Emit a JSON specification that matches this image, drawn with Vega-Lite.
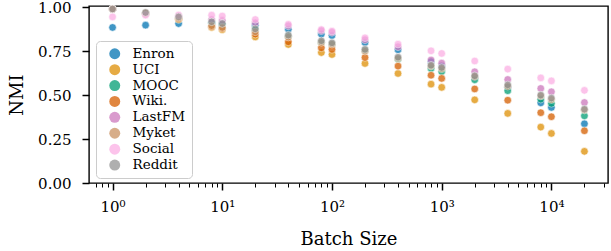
{
  "$schema": "https://vega.github.io/schema/vega-lite/v6.json",
  "width": 519,
  "height": 177,
  "autosize": "none",
  "padding": {"left": 89, "top": 6, "right": 3, "bottom": 68},
  "background": "white",
  "config": {
    "view": {"stroke": "black", "strokeWidth": 1.4},
    "font": "DejaVu Serif"
  },
  "data": {
    "values": [
      {"b":1,"d":"Enron","v":0.885},{"b":2,"d":"Enron","v":0.898},{"b":4,"d":"Enron","v":0.907},{"b":8,"d":"Enron","v":0.912},{"b":10,"d":"Enron","v":0.905},{"b":20,"d":"Enron","v":0.898},{"b":40,"d":"Enron","v":0.875},{"b":80,"d":"Enron","v":0.847},{"b":100,"d":"Enron","v":0.839},{"b":200,"d":"Enron","v":0.799},{"b":400,"d":"Enron","v":0.758},{"b":800,"d":"Enron","v":0.690},{"b":1000,"d":"Enron","v":0.665},{"b":2000,"d":"Enron","v":0.600},{"b":4000,"d":"Enron","v":0.545},{"b":8000,"d":"Enron","v":0.456},{"b":10000,"d":"Enron","v":0.430},{"b":20000,"d":"Enron","v":0.337},
      {"b":1,"d":"UCI","v":0.99},{"b":2,"d":"UCI","v":0.965},{"b":4,"d":"UCI","v":0.93},{"b":8,"d":"UCI","v":0.885},{"b":10,"d":"UCI","v":0.872},{"b":20,"d":"UCI","v":0.831},{"b":40,"d":"UCI","v":0.788},{"b":80,"d":"UCI","v":0.742},{"b":100,"d":"UCI","v":0.731},{"b":200,"d":"UCI","v":0.680},{"b":400,"d":"UCI","v":0.623},{"b":800,"d":"UCI","v":0.5625},{"b":1000,"d":"UCI","v":0.544},{"b":2000,"d":"UCI","v":0.473},{"b":4000,"d":"UCI","v":0.396},{"b":8000,"d":"UCI","v":0.318},{"b":10000,"d":"UCI","v":0.282},{"b":20000,"d":"UCI","v":0.180},
      {"b":1,"d":"MOOC","v":0.99},{"b":2,"d":"MOOC","v":0.965},{"b":4,"d":"MOOC","v":0.94},{"b":8,"d":"MOOC","v":0.91},{"b":10,"d":"MOOC","v":0.90},{"b":20,"d":"MOOC","v":0.87},{"b":40,"d":"MOOC","v":0.835},{"b":80,"d":"MOOC","v":0.80},{"b":100,"d":"MOOC","v":0.79},{"b":200,"d":"MOOC","v":0.755},{"b":400,"d":"MOOC","v":0.705},{"b":800,"d":"MOOC","v":0.652},{"b":1000,"d":"MOOC","v":0.634},{"b":2000,"d":"MOOC","v":0.587},{"b":4000,"d":"MOOC","v":0.525},{"b":8000,"d":"MOOC","v":0.477},{"b":10000,"d":"MOOC","v":0.453},{"b":20000,"d":"MOOC","v":0.382},
      {"b":1,"d":"Wiki.","v":0.99},{"b":2,"d":"Wiki.","v":0.965},{"b":4,"d":"Wiki.","v":0.935},{"b":8,"d":"Wiki.","v":0.89},{"b":10,"d":"Wiki.","v":0.88},{"b":20,"d":"Wiki.","v":0.847},{"b":40,"d":"Wiki.","v":0.803},{"b":80,"d":"Wiki.","v":0.769},{"b":100,"d":"Wiki.","v":0.760},{"b":200,"d":"Wiki.","v":0.714},{"b":400,"d":"Wiki.","v":0.665},{"b":800,"d":"Wiki.","v":0.613},{"b":1000,"d":"Wiki.","v":0.595},{"b":2000,"d":"Wiki.","v":0.535},{"b":4000,"d":"Wiki.","v":0.471},{"b":8000,"d":"Wiki.","v":0.400},{"b":10000,"d":"Wiki.","v":0.377},{"b":20000,"d":"Wiki.","v":0.297},
      {"b":1,"d":"LastFM","v":0.99},{"b":2,"d":"LastFM","v":0.965},{"b":4,"d":"LastFM","v":0.95},{"b":8,"d":"LastFM","v":0.93},{"b":10,"d":"LastFM","v":0.925},{"b":20,"d":"LastFM","v":0.911},{"b":40,"d":"LastFM","v":0.894},{"b":80,"d":"LastFM","v":0.866},{"b":100,"d":"LastFM","v":0.857},{"b":200,"d":"LastFM","v":0.815},{"b":400,"d":"LastFM","v":0.775},{"b":800,"d":"LastFM","v":0.700},{"b":1000,"d":"LastFM","v":0.682},{"b":2000,"d":"LastFM","v":0.633},{"b":4000,"d":"LastFM","v":0.589},{"b":8000,"d":"LastFM","v":0.538},{"b":10000,"d":"LastFM","v":0.519},{"b":20000,"d":"LastFM","v":0.458},
      {"b":1,"d":"Myket","v":0.99},{"b":2,"d":"Myket","v":0.965},{"b":4,"d":"Myket","v":0.94},{"b":8,"d":"Myket","v":0.895},{"b":10,"d":"Myket","v":0.885},{"b":20,"d":"Myket","v":0.86},{"b":40,"d":"Myket","v":0.83},{"b":80,"d":"Myket","v":0.80},{"b":100,"d":"Myket","v":0.79},{"b":200,"d":"Myket","v":0.75},{"b":400,"d":"Myket","v":0.71},{"b":800,"d":"Myket","v":0.665},{"b":1000,"d":"Myket","v":0.65},{"b":2000,"d":"Myket","v":0.605},{"b":4000,"d":"Myket","v":0.55},{"b":8000,"d":"Myket","v":0.495},{"b":10000,"d":"Myket","v":0.475},{"b":20000,"d":"Myket","v":0.415},
      {"b":1,"d":"Social","v":0.945},{"b":2,"d":"Social","v":0.955},{"b":4,"d":"Social","v":0.955},{"b":8,"d":"Social","v":0.955},{"b":10,"d":"Social","v":0.95},{"b":20,"d":"Social","v":0.930},{"b":40,"d":"Social","v":0.903},{"b":80,"d":"Social","v":0.873},{"b":100,"d":"Social","v":0.864},{"b":200,"d":"Social","v":0.826},{"b":400,"d":"Social","v":0.790},{"b":800,"d":"Social","v":0.752},{"b":1000,"d":"Social","v":0.737},{"b":2000,"d":"Social","v":0.694},{"b":4000,"d":"Social","v":0.648},{"b":8000,"d":"Social","v":0.598},{"b":10000,"d":"Social","v":0.581},{"b":20000,"d":"Social","v":0.527},
      {"b":1,"d":"Reddit","v":0.99},{"b":2,"d":"Reddit","v":0.97},{"b":4,"d":"Reddit","v":0.945},{"b":8,"d":"Reddit","v":0.917},{"b":10,"d":"Reddit","v":0.907},{"b":20,"d":"Reddit","v":0.877},{"b":40,"d":"Reddit","v":0.841},{"b":80,"d":"Reddit","v":0.809},{"b":100,"d":"Reddit","v":0.797},{"b":200,"d":"Reddit","v":0.760},{"b":400,"d":"Reddit","v":0.716},{"b":800,"d":"Reddit","v":0.670},{"b":1000,"d":"Reddit","v":0.657},{"b":2000,"d":"Reddit","v":0.610},{"b":4000,"d":"Reddit","v":0.558},{"b":8000,"d":"Reddit","v":0.500},{"b":10000,"d":"Reddit","v":0.483},{"b":20000,"d":"Reddit","v":0.420}
    ]
  },
  "mark": {"type": "point", "filled": true, "opacity": 0.75, "stroke": "white", "strokeWidth": 0.6, "strokeOpacity": 1, "size": 58},
  "encoding": {
    "x": {
      "field": "b", "type": "quantitative",
      "scale": {"type": "log", "domain": [0.61, 32800], "nice": false},
      "axis": {
        "title": "Batch Size",
        "titleFont": "DejaVu Serif", "titleFontSize": 18, "titleFontWeight": "normal", "titleColor": "black", "titlePadding": 16,
        "labelFont": "DejaVu Serif", "labelFontSize": 15, "labelColor": "black", "labelPadding": 9,
        "labelOverlap": false, "labelFlush": false,
        "domain": false, "grid": false,
        "tickColor": "black",
        "values": [0.7,0.8,0.9,1,2,3,4,5,6,7,8,9,10,20,30,40,50,60,70,80,90,100,200,300,400,500,600,700,800,900,1000,2000,3000,4000,5000,6000,7000,8000,9000,10000,20000,30000],
        "labelExpr": "datum.value == 1 ? '10⁰' : datum.value == 10 ? '10¹' : datum.value == 100 ? '10²' : datum.value == 1000 ? '10³' : datum.value == 10000 ? '10⁴' : ''",
        "tickSize": {"condition": {"test": "datum.value == 1 || datum.value == 10 || datum.value == 100 || datum.value == 1000 || datum.value == 10000", "value": 7}, "value": 4},
        "tickWidth": {"condition": {"test": "datum.value == 1 || datum.value == 10 || datum.value == 100 || datum.value == 1000 || datum.value == 10000", "value": 1.5}, "value": 1}
      }
    },
    "y": {
      "field": "v", "type": "quantitative",
      "scale": {"domain": [0, 1.007], "nice": false, "zero": false},
      "axis": {
        "title": "NMI",
        "titleFont": "DejaVu Serif", "titleFontSize": 18, "titleFontWeight": "normal", "titleColor": "black", "titlePadding": 11,
        "labelFont": "DejaVu Serif", "labelFontSize": 15, "labelColor": "black", "labelPadding": 11,
        "values": [0, 0.25, 0.5, 0.75, 1], "format": ".2f",
        "domain": false, "grid": false, "tickColor": "black", "tickSize": 7, "tickWidth": 1.5
      }
    },
    "color": {
      "field": "d", "type": "nominal",
      "sort": ["Enron","UCI","MOOC","Wiki.","LastFM","Myket","Social","Reddit"],
      "scale": {
        "domain": ["Enron","UCI","MOOC","Wiki.","LastFM","Myket","Social","Reddit"],
        "range": ["#0173B2","#DE8F05","#029E73","#D55E00","#CC78BC","#CA9161","#FBAFE4","#949494"]
      },
      "legend": {
        "title": null,
        "orient": "none", "legendX": 7, "legendY": 35,
        "fillColor": "rgba(255,255,255,0.8)", "strokeColor": "#cccccc", "cornerRadius": 4,
        "padding": 6,
        "labelFont": "DejaVu Serif", "labelFontSize": 13.5, "labelColor": "black", "labelOffset": 11,
        "symbolType": "circle", "symbolSize": 120, "symbolOpacity": 0.75, "symbolStrokeWidth": 0,
        "symbolOffset": 6,
        "rowPadding": 0.9
      }
    }
  }
}
